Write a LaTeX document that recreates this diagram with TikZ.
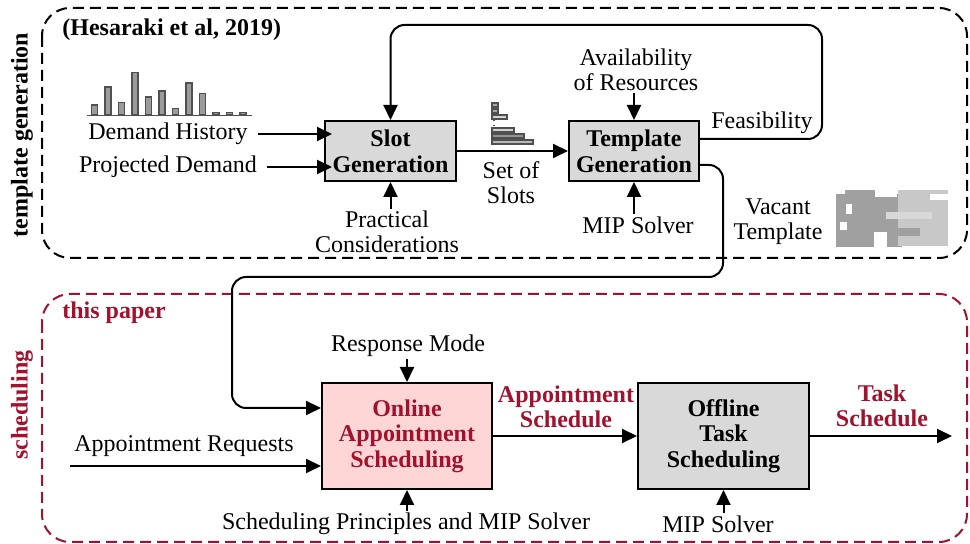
\documentclass[tikz,border=0pt]{standalone}
\usepackage{fontspec}
\setmainfont{Liberation Serif}
\usetikzlibrary{arrows.meta,calc}
\definecolor{myred}{RGB}{160,18,45}
\definecolor{boxgray}{RGB}{217,217,217}
\definecolor{boxpink}{RGB}{255,214,214}
\definecolor{bargray}{RGB}{155,155,155}
\definecolor{baredge}{RGB}{80,80,80}
\definecolor{imgdark}{RGB}{160,160,160}
\definecolor{imglight}{RGB}{200,200,200}
\begin{document}
\begin{tikzpicture}[x=0.5pt,y=-0.5pt,
  txt/.style={font=\fontsize{12}{12.5}\selectfont, align=center, inner sep=1pt},
  btxt/.style={font=\fontsize{12}{12.5}\selectfont\bfseries, align=center, inner sep=1pt},
  proc/.style={draw, line width=1pt, font=\fontsize{12}{12.8}\selectfont\bfseries, align=center, fill=boxgray, inner sep=0pt},
  conn/.style={line width=1pt, -{Triangle[length=7.5pt,width=7pt]}},
  frame/.style={line width=1pt, dash pattern=on 5.5pt off 3pt, rounded corners=14pt},
  bar/.style={fill=bargray, draw=baredge, line width=0.6pt}]
\useasboundingbox (0,0) rectangle (970,544);

% frames
\draw[frame] (42,8) rectangle (967,258);
\draw[frame, draw=myred] (42,294) rectangle (967,542);
\node[btxt, rotate=90] (lbltg) at (22,135) {template generation};
\node[btxt, rotate=90, text=myred] (lblsc) at (22,405) {scheduling};
\node[btxt, anchor=west] (hes) at (60,30) {(Hesaraki et al, 2019)};
\node[btxt, anchor=west, text=myred] (tp) at (60,313) {this paper};

% demand history bar chart
\draw[baredge, line width=0.6pt] (87,115.5) -- (252,115.5);
\foreach \i/\h in {0/10,1/28,2/12.7,3/42.7,4/18,5/24,6/6.7,7/32,8/21.7,9/2.7,10/2.7,11/2.7}
  \draw[bar] ({91.5+13.5*\i},115) rectangle ++(6,-\h);

% set of slots icon
\draw[fill=gray!70, draw=baredge, line width=0.6pt] (492,103) rectangle (498,107);
\draw[fill=gray!70, draw=baredge, line width=0.6pt] (492,109) rectangle (498,113);
\draw[fill=gray!35, draw=baredge, line width=0.6pt] (492,115) rectangle (507,119);
\draw[baredge, line width=0.6pt, dotted] (494,120) -- (494,127);
\draw[fill=gray!35, draw=baredge, line width=0.6pt] (492,128) rectangle (514,132);
\draw[fill=gray!85, draw=baredge, line width=0.6pt] (492,134) rectangle (524,138);
\draw[fill=gray!55, draw=baredge, line width=0.6pt] (492,140) rectangle (533,144);

% vacant template picture
\fill[imgdark] (836,194) rectangle (902,247);
\fill[imgdark] (845,190) rectangle (875,195);
\fill[imglight] (898,190) rectangle (948,246);
\fill[white] (875,190) rectangle (897,197);
\fill[white] (846,204) rectangle (852,214);
\fill[white] (840,222) rectangle (847,230);
\fill[white] (874,232) rectangle (887,248);
\fill[imglight!70!white] (886,212) rectangle (932,219);
\fill[imgdark] (888,228) rectangle (920,236);
\fill[white] (930,194) rectangle (948,200);

% process boxes
\node[proc, minimum width=65.5pt, minimum height=30pt] (slot) at (390.5,151) {Slot\\Generation};
\node[proc, minimum width=65pt, minimum height=30pt] (tmpl) at (634,151) {Template\\Generation};
\node[proc, fill=boxpink, text=myred, minimum width=85pt, minimum height=53pt] (online) at (407,436) {Online\\Appointment\\Scheduling};
\node[proc, minimum width=85.5pt, minimum height=53pt] (offline) at (723.5,436) {Offline\\Task\\Scheduling};

% top labels
\node[txt] (dh) at (168,134) {Demand History};
\node[txt] (pd) at (168,167) {Projected Demand};
\node[txt] (pc) at (387,232) {Practical\\Considerations};
\node[txt] (sos) at (511,183) {Set of\\Slots};
\node[txt] (av) at (636,70) {Availability\\of Resources};
\node[txt] (mip1) at (638,225) {MIP Solver};
\node[txt] (feas) at (762,123) {Feasibility};
\node[txt] (vt) at (778,222) {Vacant\\Template};

% bottom labels
\node[txt] (rm) at (408,346) {Response Mode};
\node[txt] (ar) at (184,446) {Appointment Requests};
\node[txt] (sp) at (406,524) {Scheduling Principles and MIP Solver};
\node[btxt, text=myred] (as) at (566,407) {Appointment\\Schedule};
\node[btxt, text=myred] (ts) at (882,406) {Task\\Schedule};
\node[txt] (mip2) at (718,524) {MIP Solver};

\coordinate (fb) at (822,25);
\coordinate (v1) at (723,277);
\coordinate (v2) at (232,408);
\coordinate (arS) at (70,466);
\coordinate (tsE) at (952,436);

% connectors top
\draw[conn] ([xshift=4pt]dh.east) -- ([xshift=4pt]dh.east -| slot.west);
\draw[conn] ([xshift=4pt]pd.east) -- ([xshift=4pt]pd.east -| slot.west);
\draw[conn] (slot.south |- pc.north) -- (slot.south);
\draw[conn] (slot.east) -- (tmpl.west);
\draw[conn] (tmpl.north |- av.south) -- (tmpl.north);
\draw[conn] (tmpl.south |- mip1.north) -- (tmpl.south);
\draw[conn, rounded corners=7pt] ([yshift=6pt]tmpl.east) -| (fb) -| (slot.north);
\draw[conn, rounded corners=7pt] ([yshift=-7pt]tmpl.east) -| (v1) -| (v2) -- (v2 -| online.west);

% connectors bottom
\draw[conn] (online.north |- rm.south) -- (online.north);
\draw[conn] (arS) -- (arS -| online.west);
\draw[conn] (online.south |- sp.north) -- (online.south);
\draw[conn] (online.east) -- (offline.west);
\draw[conn] (offline.east) -- (tsE);
\draw[conn] (offline.south |- mip2.north) -- (offline.south);
\end{tikzpicture}
\end{document}
